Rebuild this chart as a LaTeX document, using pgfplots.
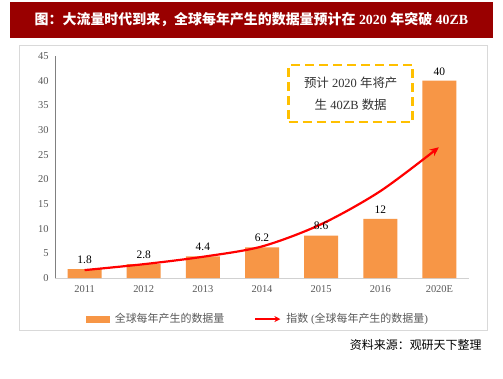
\documentclass[border=0pt]{standalone}
\usepackage{pgfplots}
\pgfplotsset{compat=1.18}
\usepackage{fontspec}
\setmainfont{Liberation Serif}
\newfontfamily\cjk{Noto Sans CJK SC}
\usetikzlibrary{arrows.meta}
\definecolor{barorange}{HTML}{F79646}
\definecolor{titlered}{HTML}{990000}
\definecolor{boxyellow}{HTML}{FFC000}
\definecolor{txtgray}{HTML}{595959}
\begin{document}
\begin{tikzpicture}[x=1bp,y=1bp]
\useasboundingbox (0,0) rectangle (503,378);
\fill[white] (0,0) rectangle (503,378);
\fill[titlered] (10,340) rectangle (493,376);
\node[white, font=\fontsize{14}{16}\selectfont\bfseries] at (251.5,358) {{\cjk 图：大流量时代到来，全球每年产生的数据量预计在} 2020 {\cjk 年突破} 40ZB};
\draw[black!15] (19,48) rectangle (487,333);
\begin{axis}[
  at={(55bp,100bp)}, anchor=south west, scale only axis,
  width=414bp, height=222bp,
  xmin=-0.5, xmax=6.5, ymin=0, ymax=45,
  ytick={0,5,...,45}, xtick={0,...,6},
  xticklabels={2011,2012,2013,2014,2015,2016,2020E},
  axis lines*=left,
  x axis line style={draw=black!18},
  y axis line style={draw=black!50},
  major tick length=0pt,
  /pgf/number format/assume math mode=true,
  ticklabel style={font=\fontsize{10.5}{12}\selectfont, text=txtgray},
  yticklabel style={xshift=-3bp},
  xticklabel style={yshift=-4bp},
  legend style={at={(0.49,-0.185)}, anchor=center, draw=none, fill=none,
    legend columns=2, font=\fontsize{11}{13}\selectfont, text=txtgray,
    /tikz/every odd column/.append style={column sep=3bp},
    /tikz/every even column/.append style={column sep=28bp}},
  clip=false,
]
\addplot[ybar, bar width=34bp, fill=barorange, draw=none,
  nodes near coords,
  nodes near coords style={font=\fontsize{11.5}{13}\selectfont, text=black, yshift=2bp},
  legend image code/.code={\fill[barorange] (0bp,-3.5bp) rectangle (24bp,3.5bp);}]
  coordinates {(0,1.8) (1,2.8) (2,4.4) (3,6.2) (4,8.6) (5,12) (6,40)};
\addlegendentry{{\cjk 全球每年产生的数据量}}
\addplot[red, line width=2.2bp, smooth, -{Stealth[length=9bp,width=8bp]},
  legend image code/.code={\draw[red,line width=2bp,-{Stealth[length=6bp,width=6bp]}] (0bp,0bp) -- (25bp,0bp);}]
  coordinates {(0,1.6) (1,2.8) (2,4.3) (3,6.4) (4,10.9) (5,17.6) (5.99,26.5)};
\addlegendentry{{\cjk 指数} ({\cjk 全球每年产生的数据量})}
\node[draw=boxyellow, line width=2.5bp, dash pattern=on 9bp off 5bp,
  minimum width=124bp, minimum height=57bp, align=center,
  font=\fontsize{12.5}{22}\selectfont, text=black!80]
  at (axis cs:4.5,37.4) {{\cjk 预计} 2020 {\cjk 年将产}\\{\cjk 生} 40ZB {\cjk 数据}};
\end{axis}
\node[anchor=east, font={\fontsize{12}{14}\cjk}] at (485,33) {资料来源：观研天下整理};
\end{tikzpicture}
\end{document}
